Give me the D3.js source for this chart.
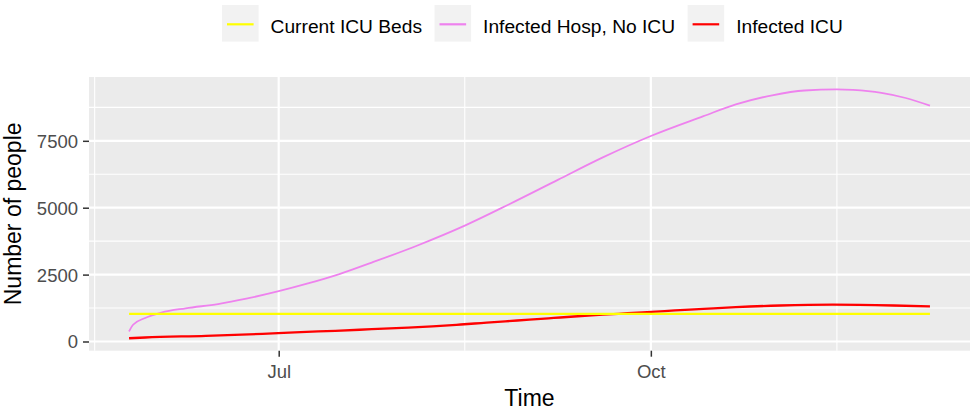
<!DOCTYPE html>
<html>
<head>
<meta charset="utf-8">
<script src="https://cdn.jsdelivr.net/npm/d3@7"></script>
<style>
  body { margin: 0; background: #fff; }
  text { font-family: "Liberation Sans", Arial, sans-serif; }
</style>
</head>
<body>
<div id="chart"></div>
<script>
"use strict";
// series
const seriesNames = ["Current ICU Beds", "Infected Hosp, No ICU", "Infected ICU"];

const bedDates = ["2020-05-25", "2020-12-09"];
const bedValues = [1035, 1035];

const hospDates = ["2020-05-25", "2020-05-26", "2020-05-29", "2020-06-02", "2020-06-08", "2020-06-16",
  "2020-06-23", "2020-07-01", "2020-07-08", "2020-07-16", "2020-07-24", "2020-08-04", "2020-08-16",
  "2020-08-27", "2020-09-08", "2020-09-19", "2020-10-01", "2020-10-14", "2020-10-22", "2020-10-31",
  "2020-11-08", "2020-11-16", "2020-11-20", "2020-11-27", "2020-12-03", "2020-12-09"];
const hospValues = [375, 626, 878, 1080, 1240, 1400, 1600, 1880, 2160, 2520, 2950, 3570, 4330,
  5130, 6040, 6870, 7680, 8420, 8860, 9200, 9380, 9420, 9400, 9290, 9100, 8813];

const icuDates = ["2020-05-25", "2020-05-29", "2020-06-13", "2020-06-27", "2020-07-05", "2020-07-15",
  "2020-07-24", "2020-08-02", "2020-08-08", "2020-08-15", "2020-08-20", "2020-08-26", "2020-09-01",
  "2020-09-07", "2020-09-12", "2020-09-23", "2020-09-29", "2020-10-07", "2020-10-14", "2020-10-22",
  "2020-11-02", "2020-11-15", "2020-11-30", "2020-12-09"];
const icuValues = [121, 150, 210, 285, 340, 400, 460, 520, 565, 635, 690, 755, 815,
  880, 935, 1035, 1090, 1160, 1220, 1285, 1345, 1375, 1345, 1310];

const yTicks = [0, 2500, 5000, 7500];
const xTickLabels = ["Jul", "Oct"];

const parse = d3.timeParse("%Y-%m-%d");
const toPoints = (dates, values) => dates.map((d, i) => ({ date: parse(d), value: values[i] }));
const series = [
  { name: seriesNames[0], points: toPoints(bedDates, bedValues) },
  { name: seriesNames[1], points: toPoints(hospDates, hospValues) },
  { name: seriesNames[2], points: toPoints(icuDates, icuValues) }
];

const width = 976;
const height = 412;
const panel = { left: 89, right: 970, top: 77, bottom: 350.7 };

const svg = d3.select("#chart")
  .append("svg")
  .attr("width", width)
  .attr("height", height);

const allPoints = series.flatMap(s => s.points);
const expand = (lo, hi) => [lo - (hi - lo) * 0.05, hi + (hi - lo) * 0.05];

const [x0, x1] = d3.extent(allPoints, d => d.date);
const xDom = expand(+x0, +x1);
const xScale = d3.scaleTime()
  .domain([new Date(xDom[0]), new Date(xDom[1])])
  .range([panel.left, panel.right]);

const yScale = d3.scaleLinear()
  .domain(expand(d3.min(allPoints, d => d.value), d3.max(allPoints, d => d.value)))
  .range([panel.bottom, panel.top]);

const color = d3.scaleOrdinal()
  .domain(seriesNames)
  .range(["#FFFF00", "#EE82EE", "#FF0000"]);

// panel background
svg.append("rect")
  .attr("x", panel.left)
  .attr("y", panel.top)
  .attr("width", panel.right - panel.left)
  .attr("height", panel.bottom - panel.top)
  .attr("fill", "#EBEBEB");

// gridlines: quarters as majors, midpoints as minors
const quarters = d3.timeMonth.every(3).range(d3.timeMonth.offset(xScale.domain()[0], -3), d3.timeMonth.offset(xScale.domain()[1], 3));
const xMajor = xScale.ticks(d3.timeMonth.every(3));
const xMinor = d3.pairs(quarters).map(([a, b]) => new Date((+a + +b) / 2))
  .filter(d => d >= xScale.domain()[0] && d <= xScale.domain()[1]);
const yMinor = d3.range(-1250, 10000, 2500).filter(v => v >= yScale.domain()[0] && v <= yScale.domain()[1]);

const grid = svg.append("g").attr("stroke", "#FFFFFF");
grid.selectAll(".ymin").data(yMinor).enter().append("line")
  .attr("x1", panel.left).attr("x2", panel.right)
  .attr("y1", d => yScale(d)).attr("y2", d => yScale(d))
  .attr("stroke-width", 1.1);
grid.selectAll(".xmin").data(xMinor).enter().append("line")
  .attr("y1", panel.top).attr("y2", panel.bottom)
  .attr("x1", d => xScale(d)).attr("x2", d => xScale(d))
  .attr("stroke-width", 1.1);
grid.selectAll(".ymaj").data(yTicks).enter().append("line")
  .attr("x1", panel.left).attr("x2", panel.right)
  .attr("y1", d => yScale(d)).attr("y2", d => yScale(d))
  .attr("stroke-width", 2.2);
grid.selectAll(".xmaj").data(xMajor).enter().append("line")
  .attr("y1", panel.top).attr("y2", panel.bottom)
  .attr("x1", d => xScale(d)).attr("x2", d => xScale(d))
  .attr("stroke-width", 2.2);

// lines: beds layer drawn last, as in the picture
const line = d3.line()
  .x(d => xScale(d.date))
  .y(d => yScale(d.value))
  .curve(d3.curveMonotoneX);
const drawOrder = [series[1], series[2], series[0]];
svg.append("g").selectAll("path")
  .data(drawOrder)
  .enter()
  .append("path")
  .attr("d", d => line(d.points))
  .attr("fill", "none")
  .attr("stroke", d => color(d.name))
  .attr("stroke-width", d => d.name === seriesNames[1] ? 1.8 : 2.3);

// axes
const yAxis = d3.axisLeft(yScale).tickValues(yTicks).tickSize(6).tickPadding(5).tickFormat(d3.format("d"));
const xAxis = d3.axisBottom(xScale).tickValues(xMajor).tickSize(6).tickPadding(5)
  .tickFormat((d, i) => xTickLabels[i]);

const gy = svg.append("g")
  .attr("transform", `translate(${panel.left}, 0)`)
  .call(yAxis);
const gx = svg.append("g")
  .attr("transform", `translate(0, ${panel.bottom})`)
  .call(xAxis);
[gx, gy].forEach(g => {
  g.select(".domain").remove();
  g.selectAll(".tick line").attr("stroke", "#333333").attr("stroke-width", 1.5);
  g.selectAll(".tick text")
    .attr("fill", "#4D4D4D")
    .style("font-size", "18.5px");
});
gy.selectAll(".tick text").attr("dy", "0.35em");
gx.selectAll(".tick text").attr("dy", "0.9em");

// axis titles
svg.append("text")
  .attr("x", (panel.left + panel.right) / 2)
  .attr("y", 406)
  .attr("text-anchor", "middle")
  .style("font-size", "23px")
  .text("Time");
svg.append("text")
  .attr("transform", `translate(21, ${(panel.top + panel.bottom) / 2}) rotate(-90)`)
  .attr("text-anchor", "middle")
  .style("font-size", "23px")
  .text("Number of people");

// legend on top
const keySize = 36.6;
const legend = svg.append("g").attr("id", "legend");
let lx = 222;
seriesNames.forEach(name => {
  const item = legend.append("g").attr("transform", `translate(${lx}, 5)`);
  item.append("rect")
    .attr("width", keySize)
    .attr("height", keySize)
    .attr("fill", "#F2F2F2");
  item.append("line")
    .attr("x1", 5).attr("x2", keySize - 5)
    .attr("y1", keySize / 2 + 1).attr("y2", keySize / 2 + 1)
    .attr("stroke", color(name))
    .attr("stroke-width", 2.2);
  const label = item.append("text")
    .attr("x", keySize + 12)
    .attr("y", 28)
    .style("font-size", "19.2px")
    .attr("fill", "#000")
    .text(name);
  lx += keySize + 12 + label.node().getComputedTextLength() + 12.5;
});
</script>
</body>
</html>
